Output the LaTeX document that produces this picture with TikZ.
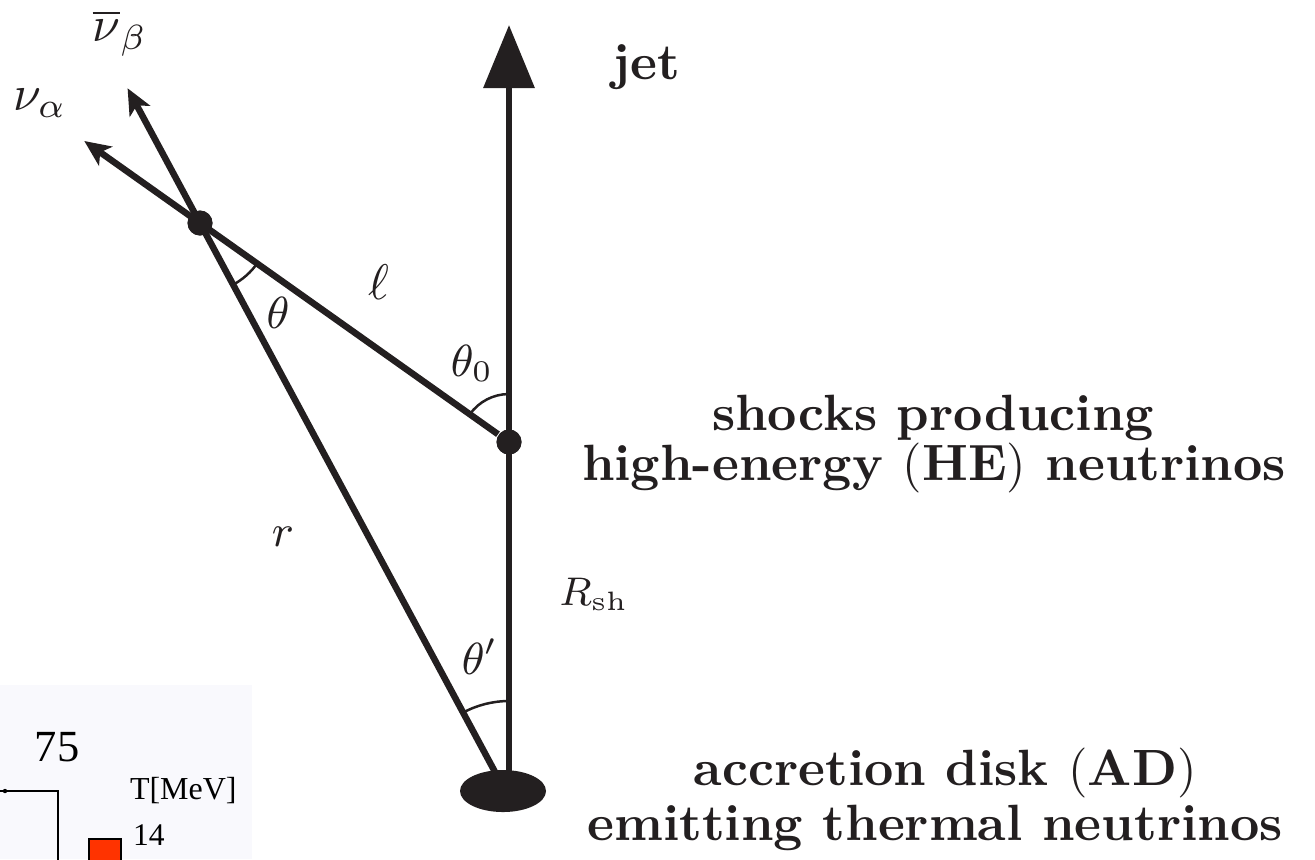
\documentclass[tikz,border=0pt]{standalone}
\usepackage{fontspec}
\newfontfamily\timesf{Liberation Serif}
\usetikzlibrary{arrows.meta,shapes.geometric,angles,calc}
\definecolor{ink}{RGB}{35,31,32}
\definecolor{panelbg}{RGB}{249,249,253}
\definecolor{tred}{RGB}{255,51,0}
\begin{document}
\begin{tikzpicture}[x=0.2pt,y=-0.2pt,
  font=\fontsize{10.2}{12}\selectfont,
  ray/.style={line width=1.3pt, draw=ink},
  dotnode/.style={circle, fill=ink, inner sep=0pt, minimum size=5pt},
  anglearc/.style={draw=ink, line width=0.5pt},
  nuarrow/.style={-{Stealth[length=5.2pt 0 0,width=4.6pt 0 0,inset=1.3pt 0]}},
  jetarrow/.style={-{Triangle[length=12.6pt 0 0,width=10pt 0 0]}},
  lbl/.style={inner sep=0pt, text=ink},
  anglbl/.style={inner sep=0pt, text=ink, font=\fontsize{8.8}{10}\selectfont},
  boldlbl/.style={inner sep=0pt, anchor=base, text=ink, font=\fontsize{10.2}{12}\selectfont\bfseries},
  paneltext/.style={inner sep=0pt, anchor=west, text=black}]
\useasboundingbox (0,0) rectangle (1315,859);
% fragment of a neighbouring panel (bottom left)
\fill[panelbg] (0,685) rectangle (252,859);
\coordinate (br0) at (0,791);
\coordinate (br1) at (58,791);
\coordinate (br2) at (58,870);
\draw[line width=0.45pt, black] (br0) -- (br1) -- (br2);
\fill[black] (5,791) circle (2.2);
\node[draw=black, line width=0.4pt, fill=tred, inner sep=0pt, minimum width=6.4pt, minimum height=6.4pt, anchor=north west] (sq) at (88,838) {};
\node[inner sep=0pt, text=black, font=\timesf\fontsize{8.9}{10}\selectfont] (n75) at (57,747) {75};
\node[paneltext, font=\timesf\fontsize{6.4}{8}\selectfont] (tmev) at (129,790) {T[MeV]};
\node[paneltext, font=\timesf\fontsize{6.3}{8}\selectfont] (n14) at (132,835) {14};
% main geometry
\coordinate (O) at (509,798);
\coordinate (J) at (509,25);
\node[dotnode] (S) at (509,442) {};
\node[dotnode] (D) at (200,223) {};
\coordinate (A) at ($(S)!1.3745!(D)$);
\coordinate (B) at ($(O)!1.2344!(D)$);
\draw[ray, jetarrow] (O) -- (J);
\draw[ray, nuarrow] (S) -- (A);
\draw[ray, nuarrow] (O) -- (B);
\node[dotnode] at (S) {};
\node[dotnode] at (D) {};
\node[ellipse, fill=ink, inner sep=0pt, minimum width=17.2pt, minimum height=8.4pt] (AD) at (503,791) {};
% angle arcs
\pic[anglearc, angle radius=14pt] {angle = O--D--S};
\pic[anglearc, angle radius=9.6pt] {angle = J--S--D};
\pic[anglearc, angle radius=19.4pt] {angle = J--O--D};
% math labels
\node[lbl] (lnub) at (120,33) {$\overline{\nu}_\beta$};
\node[lbl] (lnua) at (40,103) {$\nu_\alpha$};
\node[anglbl] (lth) at (278,313) {$\theta$};
\node[lbl] (lell) at (379,282) {$\ell$};
\node[anglbl] (lth0) at (472,363) {$\theta_0$};
\node[lbl, font=\fontsize{9.5}{11}\selectfont] (lr) at (283,537) {$r$};
\node[lbl, font=\fontsize{7.6}{9}\selectfont] (lrsh) at (594,594) {$R_{\mathrm{sh}}$};
\node[anglbl] (lthp) at (480,657) {$\theta'$};
% text labels
\node[boldlbl] (tjet) at (646,79) {jet};
\node[boldlbl] (tsh1) at (933,430) {shocks producing};
\node[boldlbl] (tsh2) at (934,480) {high-energy $(\textbf{HE})$ neutrinos};
\node[boldlbl] (tad1) at (945,785) {accretion disk $(\textbf{AD})$};
\node[boldlbl] (tad2) at (935,840) {emitting thermal neutrinos};
\end{tikzpicture}
\end{document}
